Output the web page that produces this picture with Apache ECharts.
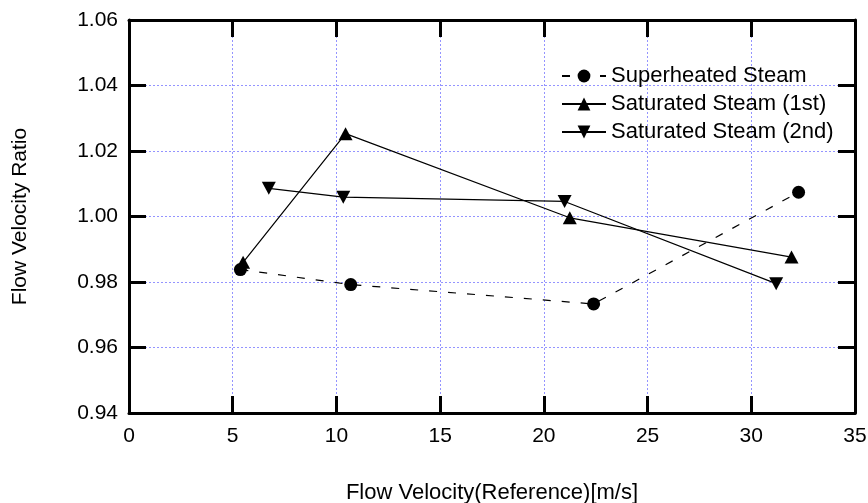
<!DOCTYPE html>
<html>
<head>
<meta charset="utf-8">
<script src="https://cdn.jsdelivr.net/npm/echarts@6/dist/echarts.min.js"></script>
<style>
  html, body { margin: 0; padding: 0; background: #fff; }
  #chart { width: 868px; height: 503px; }
</style>
</head>
<body>
<div id="chart"></div>
<script>
// values
const superX = [5.37, 10.69, 22.4, 32.28];
const superY = [0.9838, 0.9792, 0.9733, 1.0074];
const sat1X = [5.5, 10.44, 21.25, 31.94];
const sat1Y = [0.986, 1.0253, 0.9996, 0.9876];
const sat2X = [6.74, 10.33, 21.0, 31.2];
const sat2Y = [1.0086, 1.0059, 1.0046, 0.9795];

const seriesNames = ['Superheated Steam', 'Saturated Steam (1st)', 'Saturated Steam (2nd)'];
const xTitle = 'Flow Velocity(Reference)[m/s]';
const yTitle = 'Flow Velocity Ratio';

const pairs = (xs, ys) => xs.map((x, i) => [x, ys[i]]);

const FONT = '"Liberation Sans", Arial, sans-serif';
// fresh objects per axis (sharing one object broke the ticks)
// onZero off, otherwise the right y axis sits on x = 0
const axisLine = () => ({show: true, onZero: false, lineStyle: {color: '#000', width: 3}});
const axisTick = () => ({show: true, inside: true, length: 17, lineStyle: {color: '#000', width: 3}});
const grid = () => ({show: true, lineStyle: {color: '#9494ff', width: 1, type: [2, 2]}});

const chart = echarts.init(document.getElementById('chart'));

const options = {
    animation: false,
    textStyle: {fontFamily: FONT},
    grid: {left: 129, right: 13, top: 20, bottom: 90, outerBoundsMode: 'none', containLabel: false},
    legend: {
        orient: 'vertical',
        left: 556,
        top: 60,
        itemWidth: 44,
        itemHeight: 16,
        itemGap: 6,
        textStyle: {fontFamily: FONT, fontSize: 22, color: '#000'},
        data: seriesNames
    },
    xAxis: [
        {
            type: 'value', min: 0, max: 35, interval: 5,
            axisLine: axisLine(), axisTick: axisTick(), splitLine: grid(),
            axisLabel: {color: '#000', fontSize: 21, fontFamily: FONT, margin: 13},
            name: xTitle, nameLocation: 'middle', nameGap: 69,
            nameTextStyle: {color: '#000', fontSize: 22, fontFamily: FONT}
        },
        {
            type: 'value', position: 'top', min: 0, max: 35, interval: 5,
            axisLine: axisLine(), axisTick: axisTick(), splitLine: {show: false},
            axisLabel: {show: false}
        }
    ],
    yAxis: [
        {
            type: 'value', position: 'left', min: 0.94, max: 1.06, interval: 0.02,
            axisLine: axisLine(), axisTick: axisTick(), splitLine: grid(),
            axisLabel: {color: '#000', fontSize: 21, fontFamily: FONT, margin: 11,
                formatter: v => v.toFixed(2)},
            name: yTitle, nameLocation: 'middle', nameGap: 98, nameRotate: 90,
            nameTextStyle: {color: '#000', fontSize: 21, fontFamily: FONT}
        },
        {
            type: 'value', position: 'right', min: 0.94, max: 1.06, interval: 0.02,
            axisLine: axisLine(), axisTick: axisTick(), splitLine: {show: false},
            axisLabel: {show: false}
        }
    ],
    series: [
        {
            name: seriesNames[0],
            type: 'line',
            data: pairs(superX, superY),
            symbol: 'circle',
            symbolSize: 13,
            itemStyle: {color: '#000'},
            lineStyle: {color: '#000', width: 1.2, type: [8, 11]}
        },
        {
            name: seriesNames[1],
            type: 'line',
            data: pairs(sat1X, sat1Y),
            symbol: 'triangle',
            symbolSize: [14, 13],
            itemStyle: {color: '#000'},
            lineStyle: {color: '#000', width: 1.2}
        },
        {
            name: seriesNames[2],
            type: 'line',
            data: pairs(sat2X, sat2Y),
            symbol: 'triangle',
            symbolRotate: 180,
            symbolSize: [14, 13],
            itemStyle: {color: '#000'},
            lineStyle: {color: '#000', width: 1.2}
        }
    ]
};

chart.setOption(options);
</script>
</body>
</html>
